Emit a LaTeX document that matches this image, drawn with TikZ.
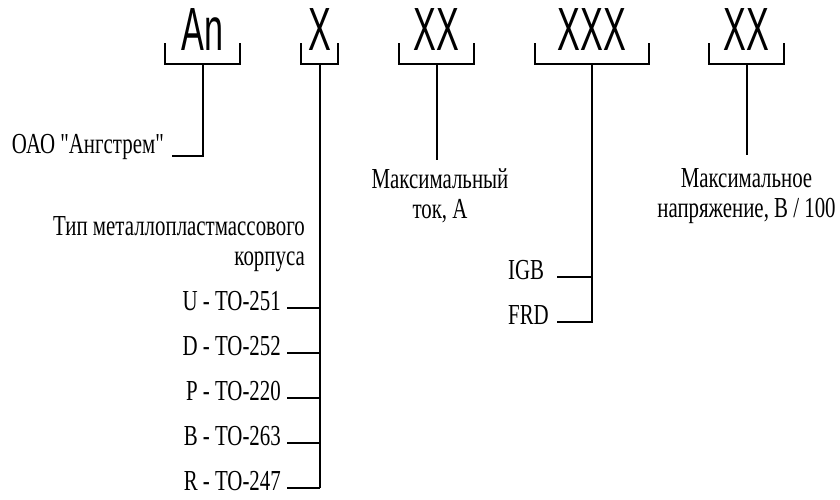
\documentclass[tikz,border=0pt]{standalone}
\usepackage{fontspec}
\setmainfont{Liberation Serif}[FakeStretch=0.72,Ligatures=TeXOff]
\newfontfamily\codefont{Liberation Sans}[FakeStretch=0.56]
\usetikzlibrary{calc}
\tikzstyle{code}=[font=\codefont\fontsize{61}{61}\selectfont,inner sep=0pt,anchor=base]
\tikzstyle{lbl}=[font=\fontsize{29}{30}\selectfont,inner sep=0pt]
\tikzstyle{wire}=[draw,line width=2pt]

\begin{document}
\begin{tikzpicture}[x=1pt,y=-1pt]
    \useasboundingbox (0,0) rectangle (840,499);

    % Code fields with their brackets
    \foreach \pos/\half/\name/\txt in {202.5/37.5/an/An, 319.5/18.5/x/X, 436.5/37.5/xx/XX, 592/57/xxx/XXX, 746.5/37.5/xxv/XX} {
        \node[code] (\name) at (\pos,50) {\txt};
        \coordinate (\name-b) at (\pos,64);
        \path[wire] (\pos-\half,43) -- (\pos-\half,64) -- (\pos+\half,64) -- (\pos+\half,43);
    }

    % Manufacturer
    \node[lbl,anchor=base east] (oao) at (164,153) {ОАО "Ангстрем"};
    \path[wire] (an-b) |- ($(oao.base east)+(8,3)$);

    % Current and voltage
    \node[lbl,align=center,anchor=north] (cur) at (440,168) {Максимальный\\ток, А};
    \path[wire] (xx-b) -- ([yshift=8pt]cur.north -| xx-b);
    \node[lbl,align=center,anchor=north] (volt) at (746.5,168) {Максимальное\\напряжение, В / 100};
    \path[wire] (xxv-b) -- ([yshift=13pt]volt.north);

    % Package types
    \node[lbl,align=right,anchor=north east] (tip) at (305,216) {Тип металлопластмассового\\корпуса};
    \foreach \y/\name/\txt in {308/pu/U - TO-251, 353/pd/D - TO-252, 398/pp/P - TO-220, 443/pb/B - TO-263, 488/pr/R - TO-247} {
        \node[lbl,anchor=mid east] (\name) at (281,\y) {\txt};
        \path[wire] ([xshift=6pt]\name.mid east) -- (\name.mid east -| x-b);
    }
    \path[wire] (x-b) -- (pr.mid -| x-b);

    % Chip type
    \node[lbl,anchor=mid west] (igb) at (508,277) {IGB};
    \node[lbl,anchor=mid west] (frd) at (508,322) {FRD};
    \coordinate (frd-end) at ([xshift=8pt]frd.mid east);
    \path[wire] (xxx-b) |- (frd-end);
    \path[wire] (frd-end |- igb.mid) -- (igb.mid -| xxx-b);
\end{tikzpicture}
\end{document}
